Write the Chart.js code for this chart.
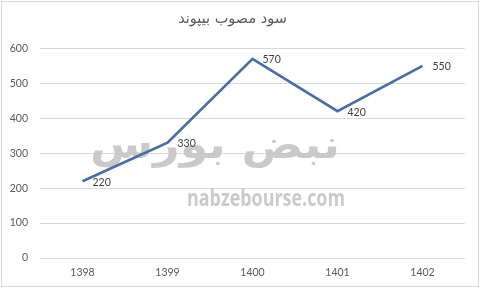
<!DOCTYPE html>
<html>
<head>
<meta charset="utf-8">
<script src="https://cdn.jsdelivr.net/npm/chart.js@4.4.1/dist/chart.umd.min.js"></script>
<style>
  html, body { margin: 0; padding: 0; background: #fff; }
  #wrap { width: 482px; height: 291px; }
</style>
</head>
<body>
<div id="wrap"><canvas id="chart" width="482" height="291"></canvas></div>
<script>
// chart data
const years = ["1398", "1399", "1400", "1401", "1402"];
const profit = [220, 330, 570, 420, 550];
const yTicks = [0, 100, 200, 300, 400, 500, 600];
const chartTitle = "سود مصوب بیپوند";
const watermark = "nabzebourse.com";
const watermarkFa = "نبض بورس";

// draw text squeezed/stretched to a given width (watermark only)
function fitText(c, txt, cx, cy, w) {
    const m = c.measureText(txt).width;
    c.save();
    c.translate(cx, cy);
    c.scale(w / m, 1);
    c.fillText(txt, 0, 0);
    c.restore();
}

/*
    frame + watermark + value labels, drawn by hand
    since there is no datalabels plugin here
*/
const extras = {
    id: "extras",
    beforeDraw(chart) {
        const c = chart.ctx;
        c.save();
        c.strokeStyle = "#d9d9d9";
        c.lineWidth = 1;
        c.strokeRect(1.5, 1.5, 477, 285);
        c.restore();
    },
    beforeDatasetsDraw(chart) {
        const c = chart.ctx;
        c.save();
        c.fillStyle = "rgba(196,196,196,0.9)";
        c.textAlign = "center";
        c.textBaseline = "middle";
        c.font = "bold 40px 'DejaVu Sans'";
        fitText(c, watermarkFa, 215, 148, 250);
        c.font = "bold 24px 'Open Sans'";
        fitText(c, watermark, 266, 199, 158);
        c.restore();
    },
    afterDatasetsDraw(chart) {
        const c = chart.ctx;
        const pts = chart.getDatasetMeta(0).data;
        c.save();
        c.fillStyle = "#404040";
        c.font = "10.5px Lato";
        c.textAlign = "left";
        c.textBaseline = "middle";
        pts.forEach((p, i) => {
            c.fillText(String(profit[i]), p.x + 10, p.y + 1);
        });
        c.restore();
    }
};

const g1 = new Chart("chart", {
    type: "line",
    data: {
        labels: years,
        datasets: [{
            data: profit,
            borderColor: "#4a6da6",
            borderWidth: 2.75,
            pointRadius: 0,
            tension: 0,
            fill: false
        }]
    },
    options: {
        responsive: false,
        animation: false,
        layout: { padding: { left: 0, right: 17, top: 0, bottom: 12 } },
        plugins: {
            legend: { display: false },
            tooltip: { enabled: false },
            title: {
                display: true,
                text: chartTitle,
                color: "#595959",
                font: { family: "'DejaVu Sans'", size: 14.5, weight: "normal" },
                padding: { top: 11, bottom: 20 }
            }
        },
        scales: {
            x: {
                offset: true,
                grid: { display: false, drawTicks: false },
                border: { display: false },
                ticks: { color: "#595959", font: { family: "Lato", size: 10.5 }, padding: 8 },
                afterFit: s => { s.height = 21; }
            },
            y: {
                min: 0,
                max: 600,
                afterBuildTicks: s => { s.ticks = yTicks.map(v => ({ value: v })); },
                grid: { color: "#d9d9d9", drawTicks: false },
                border: { display: false },
                ticks: { color: "#595959", font: { family: "Lato", size: 10.5 }, padding: 12 },
                afterFit: s => { s.width = 40; }
            }
        }
    },
    plugins: [extras]
});
</script>
</body>
</html>
